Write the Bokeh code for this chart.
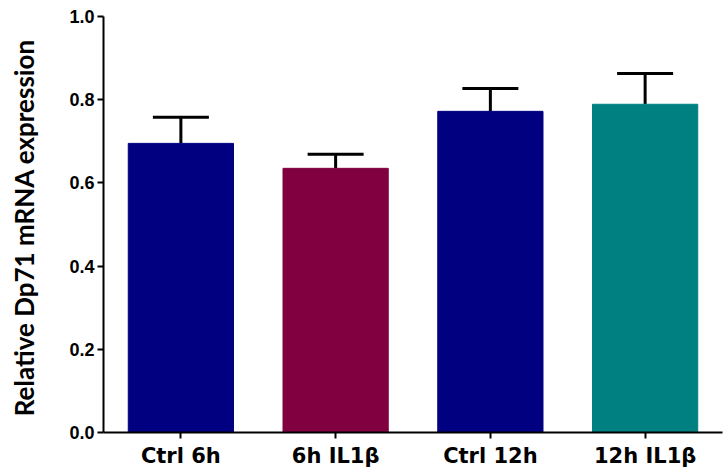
from bokeh.plotting import figure
from bokeh.models import ColumnDataSource, Whisker, TeeHead, FactorRange, Range1d, FixedTicker, CustomJSTickFormatter
from bokeh.embed import file_html
from bokeh.resources import INLINE

categories = ["Ctrl 6h", "6h IL1β", "Ctrl 12h", "12h IL1β"]
means = [0.695, 0.635, 0.772, 0.789]
upper = [0.758, 0.669, 0.827, 0.863]
colors = ["#000080", "#800040", "#000080", "#008080"]
yticks = [0.0, 0.2, 0.4, 0.6, 0.8, 1.0]

src = ColumnDataSource(dict(x=categories, top=means, up=upper, color=colors))

p = figure(x_range=FactorRange(*categories, range_padding=0.0), y_range=Range1d(0, 1),
           width=723, height=470, output_backend="svg", toolbar_location=None,
           min_border_left=103, min_border_top=16, min_border_bottom=37, min_border_right=1)
p.outline_line_color = None
p.xgrid.grid_line_color = None
p.ygrid.grid_line_color = None

p.vbar(x="x", top="top", width=0.68, fill_color="color", line_color="color", source=src)

w = Whisker(base="x", lower="top", upper="up", source=src,
            line_width=3, line_color="black",
            upper_head=TeeHead(size=56, line_width=3, line_color="black"), lower_head=None)
p.add_layout(w)

p.yaxis.ticker = FixedTicker(ticks=yticks)
p.yaxis.formatter = CustomJSTickFormatter(code="return tick.toFixed(1);")
for ax in (p.xaxis[0], p.yaxis[0]):
    ax.axis_line_width = 2
    ax.axis_line_color = "black"
    ax.major_tick_line_width = 2
    ax.major_tick_out = 6
    ax.major_tick_in = 0
    ax.minor_tick_line_color = None
    ax.major_label_text_font_style = "bold"
    ax.major_label_text_color = "black"
p.yaxis.major_label_text_font = "Liberation Sans"
p.yaxis.major_label_text_font_size = "18px"
p.yaxis.major_label_standoff = 3
p.xaxis.major_label_text_font = "DejaVu Sans"
p.xaxis.major_label_text_font_size = "21px"
p.xaxis.major_label_standoff = 5
p.yaxis.axis_label = "Relative  Dp71 mRNA expression"
p.yaxis.axis_label_text_font = "Lato"
p.yaxis.axis_label_text_font_style = "bold"
p.yaxis.axis_label_text_font_size = "26px"
p.yaxis.axis_label_text_color = "black"
p.yaxis.axis_label_standoff = 26

open("out.html", "w").write(file_html(p, INLINE))
